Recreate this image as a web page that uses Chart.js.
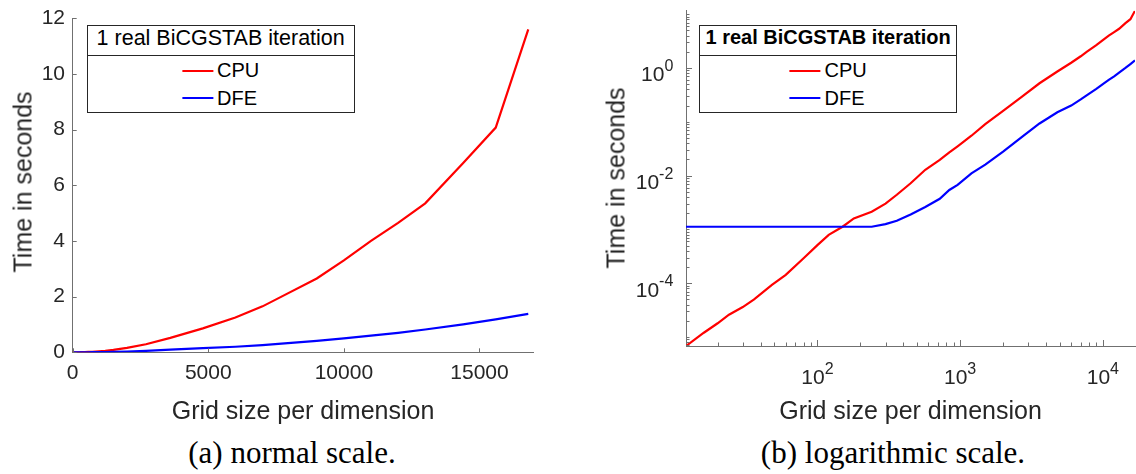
<!DOCTYPE html>
<html>
<head>
<meta charset="utf-8">
<script src="https://cdn.jsdelivr.net/npm/chart.js@4.4.1/dist/chart.umd.min.js"></script>
<style>
  html, body { margin: 0; padding: 0; background: #fff; }
  body { width: 1136px; height: 474px; position: relative; overflow: hidden;
         font-family: "Liberation Sans", Arial, sans-serif; color: #262626; }
  canvas { position: absolute; top: 0; }
  #left { left: 0; }
  #right { left: 580px; }
  .lbl { position: absolute; white-space: nowrap; line-height: 1; transform: translate(-50%, -50%); font-size: 25px; }
  .ytitle { transform: translate(-50%, -50%) rotate(-90deg); }
  .cap { font-family: "Liberation Serif", serif; font-size: 31px; color: #000; }
  .legend { position: absolute; box-sizing: border-box; border: 1px solid #262626; background: #fff; color: #000; }
  .ltitle { height: 30px; box-sizing: border-box; border-bottom: 1px solid #262626; line-height: 29px; text-align: center; white-space: nowrap; }
  .litems { position: absolute; left: 50%; transform: translateX(-50%); top: 30.9px; }
  .lrow { height: 27.6px; display: flex; align-items: center; font-size: 20px; white-space: nowrap; }
  .sw { display: inline-block; width: 31px; height: 2px; margin-right: 4px; }
</style>
</head>
<body>
<canvas id="left" width="580" height="400"></canvas>
<canvas id="right" width="556" height="400"></canvas>

<div class="lbl ytitle" style="left:23px; top:181.5px;">Time in seconds</div>
<div class="lbl" style="left:303px; top:410px;">Grid size per dimension</div>
<div class="lbl ytitle" style="left:616px; top:178.4px;">Time in seconds</div>
<div class="lbl" style="left:910.5px; top:410px;">Grid size per dimension</div>

<div class="lbl cap" style="left:292px; top:452px;">(a) normal scale.</div>
<div class="lbl cap" style="left:893px; top:452px;">(b) logarithmic scale.</div>

<div class="legend" id="legLeft" style="left:86.7px; top:25px; width:268px; height:87.7px;"></div>
<div class="legend" id="legRight" style="left:699.3px; top:25px; width:257.7px; height:87.7px;"></div>

<script>
// grid size per dimension and measured time (seconds)
var gridSize = [12, 16, 20, 24, 30, 36, 48, 60, 80, 100, 120, 150, 180, 240, 300, 360, 450, 570, 720, 840,
                960, 1200, 1500, 2000, 2700, 3600, 4800, 6000, 7000, 7700, 9000, 10000, 11000, 12000, 13000,
                14400, 15600, 16800];
var cpuTime = [6.8e-6, 1.2e-5, 1.8e-5, 2.6e-5, 3.6e-5, 5.0e-5, 9.3e-5, 1.43e-4, 2.9e-4, 5.1e-4, 7.9e-4,
               1.12e-3, 1.6e-3, 2.13e-3, 3.0e-3, 4.4e-3, 7.2e-3, 1.28e-2, 1.95e-2, 2.7e-2, 3.5e-2, 5.5e-2,
               9e-2, 0.16, 0.29, 0.52, 0.86, 1.25, 1.65, 2.0, 2.65, 3.3, 4.0, 4.65, 5.35, 6.8, 8.07, 11.6];
var dfeTime = [1.12e-3, 1.12e-3, 1.12e-3, 1.12e-3, 1.12e-3, 1.12e-3, 1.12e-3, 1.12e-3, 1.12e-3, 1.12e-3,
               1.12e-3, 1.12e-3, 1.12e-3, 1.12e-3, 1.25e-3, 1.45e-3, 1.9e-3, 2.6e-3, 3.7e-3, 5.4e-3,
               6.7e-3, 1.1e-2, 1.6e-2, 2.8e-2, 5.2e-2, 9.3e-2, 0.15, 0.2, 0.26, 0.31, 0.41, 0.5, 0.6, 0.7,
               0.82, 1.0, 1.18, 1.38];

// tick labels
var xTicksLin = [0, 5000, 10000, 15000];
var yTicksLin = [0, 2, 4, 6, 8, 10, 12];
var xTicksLog = [100, 1000, 10000];
var yTicksLog = [1e-4, 1e-2, 1];

var legendTitle = '1 real BiCGSTAB iteration';
var seriesNames = ['CPU', 'DFE'];
var seriesColors = ['#ff0000', '#0000ff'];

var AXIS = '#707070';
var TXT = '#262626';
var FONT = '"Liberation Sans", Arial, sans-serif';

function pts(vals) {
  return gridSize.map(function(g, i) { return {x: g, y: vals[i]}; });
}

function datasets() {
  return [cpuTime, dfeTime].map(function(v, i) {
    return {label: seriesNames[i], data: pts(v), borderColor: seriesColors[i], borderWidth: 2.2,
            pointRadius: 0, tension: 0, fill: false, order: 1 - i};
  });
}

// minor ticks at 2..9 x 10^k inside [lo, hi], majors at the labelled decades
function logTicks(lo, hi, majors) {
  var out = [];
  for (var d = Math.floor(Math.log10(lo)); d <= Math.ceil(Math.log10(hi)); d++) {
    for (var k = 1; k <= 9; k++) {
      var v = k * Math.pow(10, d);
      if (v < lo || v > hi) continue;
      var isMajor = majors.some(function(m) { return Math.abs(m - v) / m < 1e-9; });
      out.push({v: v, len: isMajor ? 6 : 3.5, label: isMajor});
    }
  }
  return out;
}

// MATLAB style: ticks point into the plot, log labels as 10 with raised exponent
var axisTicks = {
  id: 'axisTicks',
  afterDraw: function(chart, args, o) {
    var ctx = chart.ctx, a = chart.chartArea, xs = chart.scales.x, ys = chart.scales.y;
    ctx.save();
    ctx.strokeStyle = AXIS;
    ctx.lineWidth = 1;
    ctx.beginPath();
    o.x.forEach(function(t) {
      var p = Math.round(xs.getPixelForValue(t.v)) + 0.5;
      ctx.moveTo(p, a.bottom); ctx.lineTo(p, a.bottom - t.len);
    });
    o.y.forEach(function(t) {
      var p = Math.round(ys.getPixelForValue(t.v)) + 0.5;
      ctx.moveTo(a.left, p); ctx.lineTo(a.left + t.len, p);
    });
    ctx.stroke();

    if (o.pow) {
      ctx.fillStyle = TXT;
      ctx.textAlign = 'left';
      ctx.textBaseline = 'alphabetic';
      var big = '21px ' + FONT, small = '16px ' + FONT;
      var draw = function(t, isX) {
        var e = String(Math.round(Math.log10(t.v)));
        ctx.font = big; var wb = ctx.measureText('10').width;
        ctx.font = small; var we = ctx.measureText(e).width;
        var x0, yb;
        if (isX) {
          x0 = xs.getPixelForValue(t.v) - (wb + we) / 2;
          yb = a.bottom + 38.3;
        } else {
          x0 = a.left - 12.7 - wb - we;
          yb = ys.getPixelForValue(t.v) + 13.5;
        }
        ctx.font = big; ctx.fillText('10', x0, yb);
        ctx.font = small; ctx.fillText(e, x0 + wb, yb - 10.5);
      };
      o.x.filter(function(t) { return t.label; }).forEach(function(t) { draw(t, true); });
      o.y.filter(function(t) { return t.label; }).forEach(function(t) { draw(t, false); });
    }
    ctx.restore();
  }
};

var tickFont = {family: FONT, size: 21, lineHeight: 1};
var plain = function(v) { return String(v); };

// (a) normal scale
new Chart(document.getElementById('left'), {
  type: 'line',
  data: {datasets: datasets()},
  options: {
    responsive: false, animation: false, events: [],
    layout: {padding: {left: 0, top: 10.8, right: 46.3, bottom: 0}},
    plugins: {
      legend: {display: false}, tooltip: {enabled: false},
      axisTicks: {
        x: xTicksLin.map(function(v) { return {v: v, len: 4}; }),
        y: yTicksLin.map(function(v) { return {v: v, len: 4}; })
      }
    },
    scales: {
      x: {
        type: 'linear', min: 0, max: 17000,
        afterBuildTicks: function(s) { s.ticks = xTicksLin.map(function(v) { return {value: v}; }); },
        afterFit: function(s) { s.height = 47.7; },
        grid: {display: false, drawTicks: false},
        border: {display: true, color: AXIS, width: 1},
        ticks: {color: TXT, font: tickFont, padding: 10.5, autoSkip: false, maxRotation: 0, callback: plain}
      },
      y: {
        type: 'linear', min: 0, max: 12,
        afterBuildTicks: function(s) { s.ticks = yTicksLin.map(function(v) { return {value: v}; }); },
        afterFit: function(s) { s.width = 72.7; },
        grid: {display: false, drawTicks: false},
        border: {display: true, color: AXIS, width: 1},
        ticks: {color: TXT, font: tickFont, padding: 7.7, autoSkip: false, callback: plain}
      }
    }
  },
  plugins: [axisTicks]
});

// (b) logarithmic scale
var xMin = gridSize[0], xMax = gridSize[gridSize.length - 1];
var yMin = cpuTime[0], yMax = cpuTime[cpuTime.length - 1];
new Chart(document.getElementById('right'), {
  type: 'line',
  data: {datasets: datasets()},
  options: {
    responsive: false, animation: false, events: [],
    layout: {padding: {left: 0, top: 10.7, right: 1, bottom: 0}},
    plugins: {
      legend: {display: false}, tooltip: {enabled: false},
      axisTicks: {pow: true, x: logTicks(xMin, xMax, xTicksLog), y: logTicks(yMin, yMax, yTicksLog)}
    },
    scales: {
      x: {
        type: 'logarithmic', min: xMin, max: xMax,
        afterFit: function(s) { s.height = 54; },
        grid: {display: false, drawTicks: false},
        border: {display: true, color: AXIS, width: 1},
        ticks: {display: false}
      },
      y: {
        type: 'logarithmic', min: yMin, max: yMax,
        afterFit: function(s) { s.width = 106; },
        grid: {display: false, drawTicks: false},
        border: {display: true, color: AXIS, width: 1},
        ticks: {display: false}
      }
    }
  },
  plugins: [axisTicks]
});

// legend boxes
function buildLegend(id, titleFont) {
  var box = document.getElementById(id);
  var title = document.createElement('div');
  title.className = 'ltitle';
  title.style.font = titleFont;
  title.textContent = legendTitle;
  box.appendChild(title);
  var items = document.createElement('div');
  items.className = 'litems';
  seriesNames.forEach(function(name, i) {
    var row = document.createElement('div');
    row.className = 'lrow';
    var sw = document.createElement('span');
    sw.className = 'sw';
    sw.style.background = seriesColors[i];
    row.appendChild(sw);
    row.appendChild(document.createTextNode(name));
    items.appendChild(row);
  });
  box.appendChild(items);
}
buildLegend('legLeft', '21.5px ' + FONT);
buildLegend('legRight', 'bold 20px ' + FONT);
</script>
</body>
</html>
